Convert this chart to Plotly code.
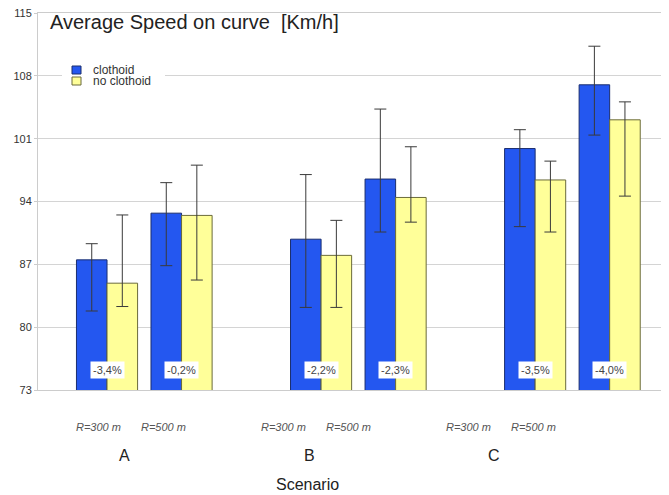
import plotly.graph_objects as go

# ---- data ----
groups = ["A", "B", "C"]
radii = ["R=300 m", "R=500 m"]
series_names = ["clothoid", "no clothoid"]
clothoid = [87.5, 92.7, 89.8, 96.5, 99.9, 107.0]
clothoid_hi = [89.3, 96.1, 97.0, 104.3, 102.0, 111.3]
clothoid_lo = [81.8, 86.85, 82.2, 90.6, 91.2, 101.4]
no_clothoid = [84.9, 92.45, 88.0, 94.45, 96.4, 103.1]
no_clothoid_hi = [92.5, 98.05, 91.9, 100.1, 98.5, 105.1]
no_clothoid_lo = [82.3, 85.25, 82.2, 91.7, 90.6, 94.6]
pct_labels = ["-3,4%", "-0,2%", "-2,2%", "-2,3%", "-3,5%", "-4,0%"]
y_ticks = [73, 80, 87, 94, 101, 108, 115]

# ---- styles ----
BLUE = "#2457F0"
BLUE_LINE = "#1B2E6E"
YELLOW = "#FFFF99"
YELLOW_LINE = "#6B6B3A"
FONT = "Liberation Sans, Arial"

# ---- layout helpers ----
GROUP_STEP = 2.872
pos = [g * GROUP_STEP + s for g in range(len(groups)) for s in range(len(radii))]
LABEL_FIX = -0.795
LABEL_SCALE = 0.864
lab_pos = [LABEL_FIX + LABEL_SCALE * (p - LABEL_FIX) for p in pos]
grp_pos = [(lab_pos[2 * g] + lab_pos[2 * g + 1]) / 2 - 0.09 for g in range(len(groups))]

W, H = 661 - 30, 487 - 5 - 105  # plot area size in px
def px(xp):
    return xp / W
def py(yp):
    return 1 - yp / H

fig = go.Figure()
fig.add_trace(go.Bar(
    x=pos, y=clothoid, name=series_names[0], showlegend=False,
    marker=dict(color=BLUE, line=dict(color=BLUE_LINE, width=1)),
    error_y=dict(type="data", symmetric=False,
                 array=[h - v for h, v in zip(clothoid_hi, clothoid)],
                 arrayminus=[v - l for v, l in zip(clothoid, clothoid_lo)],
                 color="#3a3a3a", thickness=1, width=6),
))
fig.add_trace(go.Bar(
    x=pos, y=no_clothoid, name=series_names[1], showlegend=False,
    marker=dict(color=YELLOW, line=dict(color=YELLOW_LINE, width=1)),
    error_y=dict(type="data", symmetric=False,
                 array=[h - v for h, v in zip(no_clothoid_hi, no_clothoid)],
                 arrayminus=[v - l for v, l in zip(no_clothoid, no_clothoid_lo)],
                 color="#3a3a3a", thickness=1, width=6),
))

ann = []
for p, t in zip(pos, pct_labels):
    ann.append(dict(x=p, y=75.2, xref="x", yref="y", text=t, showarrow=False,
                    bgcolor="white", borderpad=2,
                    font=dict(family=FONT, size=11, color="#444")))
for i, p in enumerate(lab_pos):
    ann.append(dict(x=p, y=0, xref="x", yref="paper", yshift=-37,
                    text="<i>" + radii[i % 2] + "</i>",
                    showarrow=False, yanchor="middle",
                    font=dict(family=FONT, size=11, color="#555")))
for g, p in zip(groups, grp_pos):
    ann.append(dict(x=p, y=0, xref="x", yref="paper", yshift=-65, text=g,
                    showarrow=False, yanchor="middle",
                    font=dict(family=FONT, size=16, color="#222")))
ann.append(dict(x=px(269), y=0, xref="paper", yref="paper", yshift=-94,
                text="Scenario", showarrow=False, yanchor="middle",
                font=dict(family=FONT, size=16, color="#222")))
ann.append(dict(x=px(10), y=py(9), xref="paper", yref="paper",
                text="Average Speed on curve&nbsp;&nbsp;[Km/h]",
                showarrow=False, xanchor="left", yanchor="middle",
                font=dict(family=FONT, size=20, color="#222")))
# compact legend text
for name, yy in zip(series_names, [57, 68]):
    ann.append(dict(x=px(53), y=py(yy), xref="paper", yref="paper",
                    text=name, showarrow=False, xanchor="left", yanchor="middle",
                    font=dict(family=FONT, size=12, color="#333")))

shapes = [
    dict(type="rect", xref="paper", yref="paper", layer="above",
         x0=px(24), x1=px(127), y0=py(50), y1=py(76),
         fillcolor="white", line=dict(width=0)),
    dict(type="rect", xref="paper", yref="paper", layer="above",
         x0=px(34), x1=px(43), y0=py(53), y1=py(61),
         fillcolor=BLUE, line=dict(color=BLUE_LINE, width=1)),
    dict(type="rect", xref="paper", yref="paper", layer="above",
         x0=px(34), x1=px(43), y0=py(64), y1=py(72),
         fillcolor=YELLOW, line=dict(color=YELLOW_LINE, width=1)),
]

fig.update_layout(
    width=661, height=487,
    margin=dict(l=30, r=0, t=5, b=105),
    paper_bgcolor="white", plot_bgcolor="white",
    barmode="group", bargap=0.18, bargroupgap=0,
    showlegend=False,
    annotations=ann,
    shapes=shapes,
    xaxis=dict(range=[-0.926, 7.54], showticklabels=False, showgrid=False,
               zeroline=False, showline=True, mirror=True, linecolor="#cccccc",
               ticks=""),
    yaxis=dict(range=[73, 115], tickvals=y_ticks, showgrid=True, gridcolor="#d4d4d4",
               gridwidth=1, zeroline=False, showline=True, linecolor="#cccccc",
               ticks="outside", ticklen=3, tickcolor="#cccccc",
               ticklabeloverflow="allow",
               tickfont=dict(family=FONT, size=11, color="#333")),
)

fig.write_html("out.html")
